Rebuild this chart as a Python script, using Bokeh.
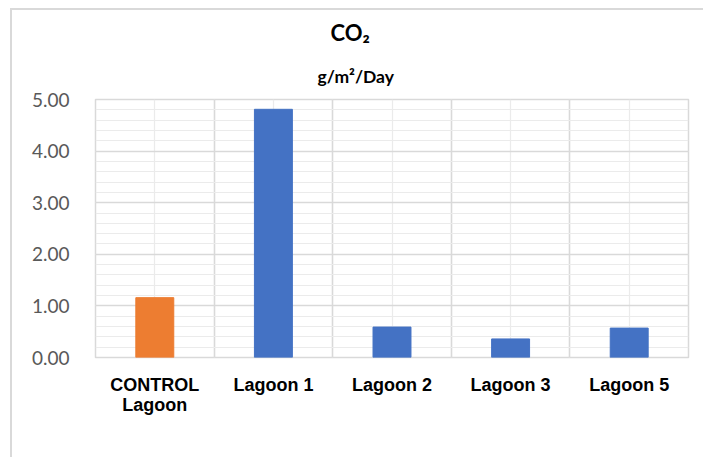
from bokeh.plotting import figure
from bokeh.models import FixedTicker, SingleIntervalTicker, Title, Range1d, NumeralTickFormatter
from bokeh.embed import file_html
from bokeh.resources import INLINE

# CO2 emission per lagoon (g/m²/Day)
categories = ["CONTROL\nLagoon", "Lagoon 1", "Lagoon 2", "Lagoon 3", "Lagoon 5"]
values = [1.16, 4.81, 0.59, 0.36, 0.57]
colors = ["#ED7D31", "#4472C4", "#4472C4", "#4472C4", "#4472C4"]
y_max = 5

n = len(categories)
centers = [i + 0.5 for i in range(n)]

p = figure(
    width=693, height=449,
    x_range=Range1d(0, n), y_range=Range1d(0, y_max),
    output_backend="svg", toolbar_location=None,
    min_border_left=83, min_border_right=17,
    min_border_top=89, min_border_bottom=102,
    background_fill_color="white", border_fill_color="white",
)
p.styles = {
    "margin-left": "10px",
    "margin-top": "8px",
    "border-left": "2px solid #d9d9d9",
    "border-top": "2px solid #d9d9d9",
}

p.vbar(x=centers, top=values, width=0.32, fill_color=colors, line_color=colors)

# titles
p.title.text = "CO\u2082"
p.title.align = "left"
p.title.offset = 235
p.title.text_font = "Lato"
p.title.text_font_size = "22px"
p.title.text_font_style = "bold"
p.title.text_color = "#000000"
p.title.standoff = 11
sub = Title(text="g/m\u00b2/Day", align="left", offset=222, text_font="Lato",
            text_font_size="17.5px", text_font_style="bold", text_color="#000000",
            standoff=25)
p.add_layout(sub, "above")

# frame
p.outline_line_color = "#d9d9d9"
p.outline_line_width = 1.5

# y axis
p.yaxis.ticker = SingleIntervalTicker(interval=1, num_minor_ticks=5)
p.yaxis.formatter = NumeralTickFormatter(format="0.00")
p.yaxis.axis_line_color = None
p.yaxis.major_tick_line_color = None
p.yaxis.minor_tick_line_color = None
p.yaxis.major_label_text_font = "Lato"
p.yaxis.major_label_text_font_size = "19px"
p.yaxis.major_label_text_color = "#595959"
p.yaxis.major_label_standoff = 20

# x axis
p.xaxis.ticker = FixedTicker(ticks=centers)
p.xaxis.major_label_overrides = {c: lab for c, lab in zip(centers, categories)}
p.xaxis.axis_line_color = None
p.xaxis.major_tick_line_color = None
p.xaxis.minor_tick_line_color = None
p.xaxis.major_label_text_font = "Liberation Sans"
p.xaxis.major_label_text_font_size = "18px"
p.xaxis.major_label_text_font_style = "bold"
p.xaxis.major_label_text_color = "#000000"
p.xaxis.major_label_text_line_height = 1.0
p.xaxis.major_label_standoff = 11

# grids
p.ygrid.ticker = SingleIntervalTicker(interval=1, num_minor_ticks=5)
p.ygrid.grid_line_color = "#d9d9d9"
p.ygrid.grid_line_width = 1.5
p.ygrid.minor_grid_line_color = "#ebebeb"
p.ygrid.minor_grid_line_width = 1.2

p.xgrid.ticker = SingleIntervalTicker(interval=1, num_minor_ticks=2)
p.xgrid.grid_line_color = "#d9d9d9"
p.xgrid.grid_line_width = 1.5
p.xgrid.minor_grid_line_color = "#ebebeb"
p.xgrid.minor_grid_line_width = 1.2

open("out.html", "w").write(file_html(p, INLINE))
